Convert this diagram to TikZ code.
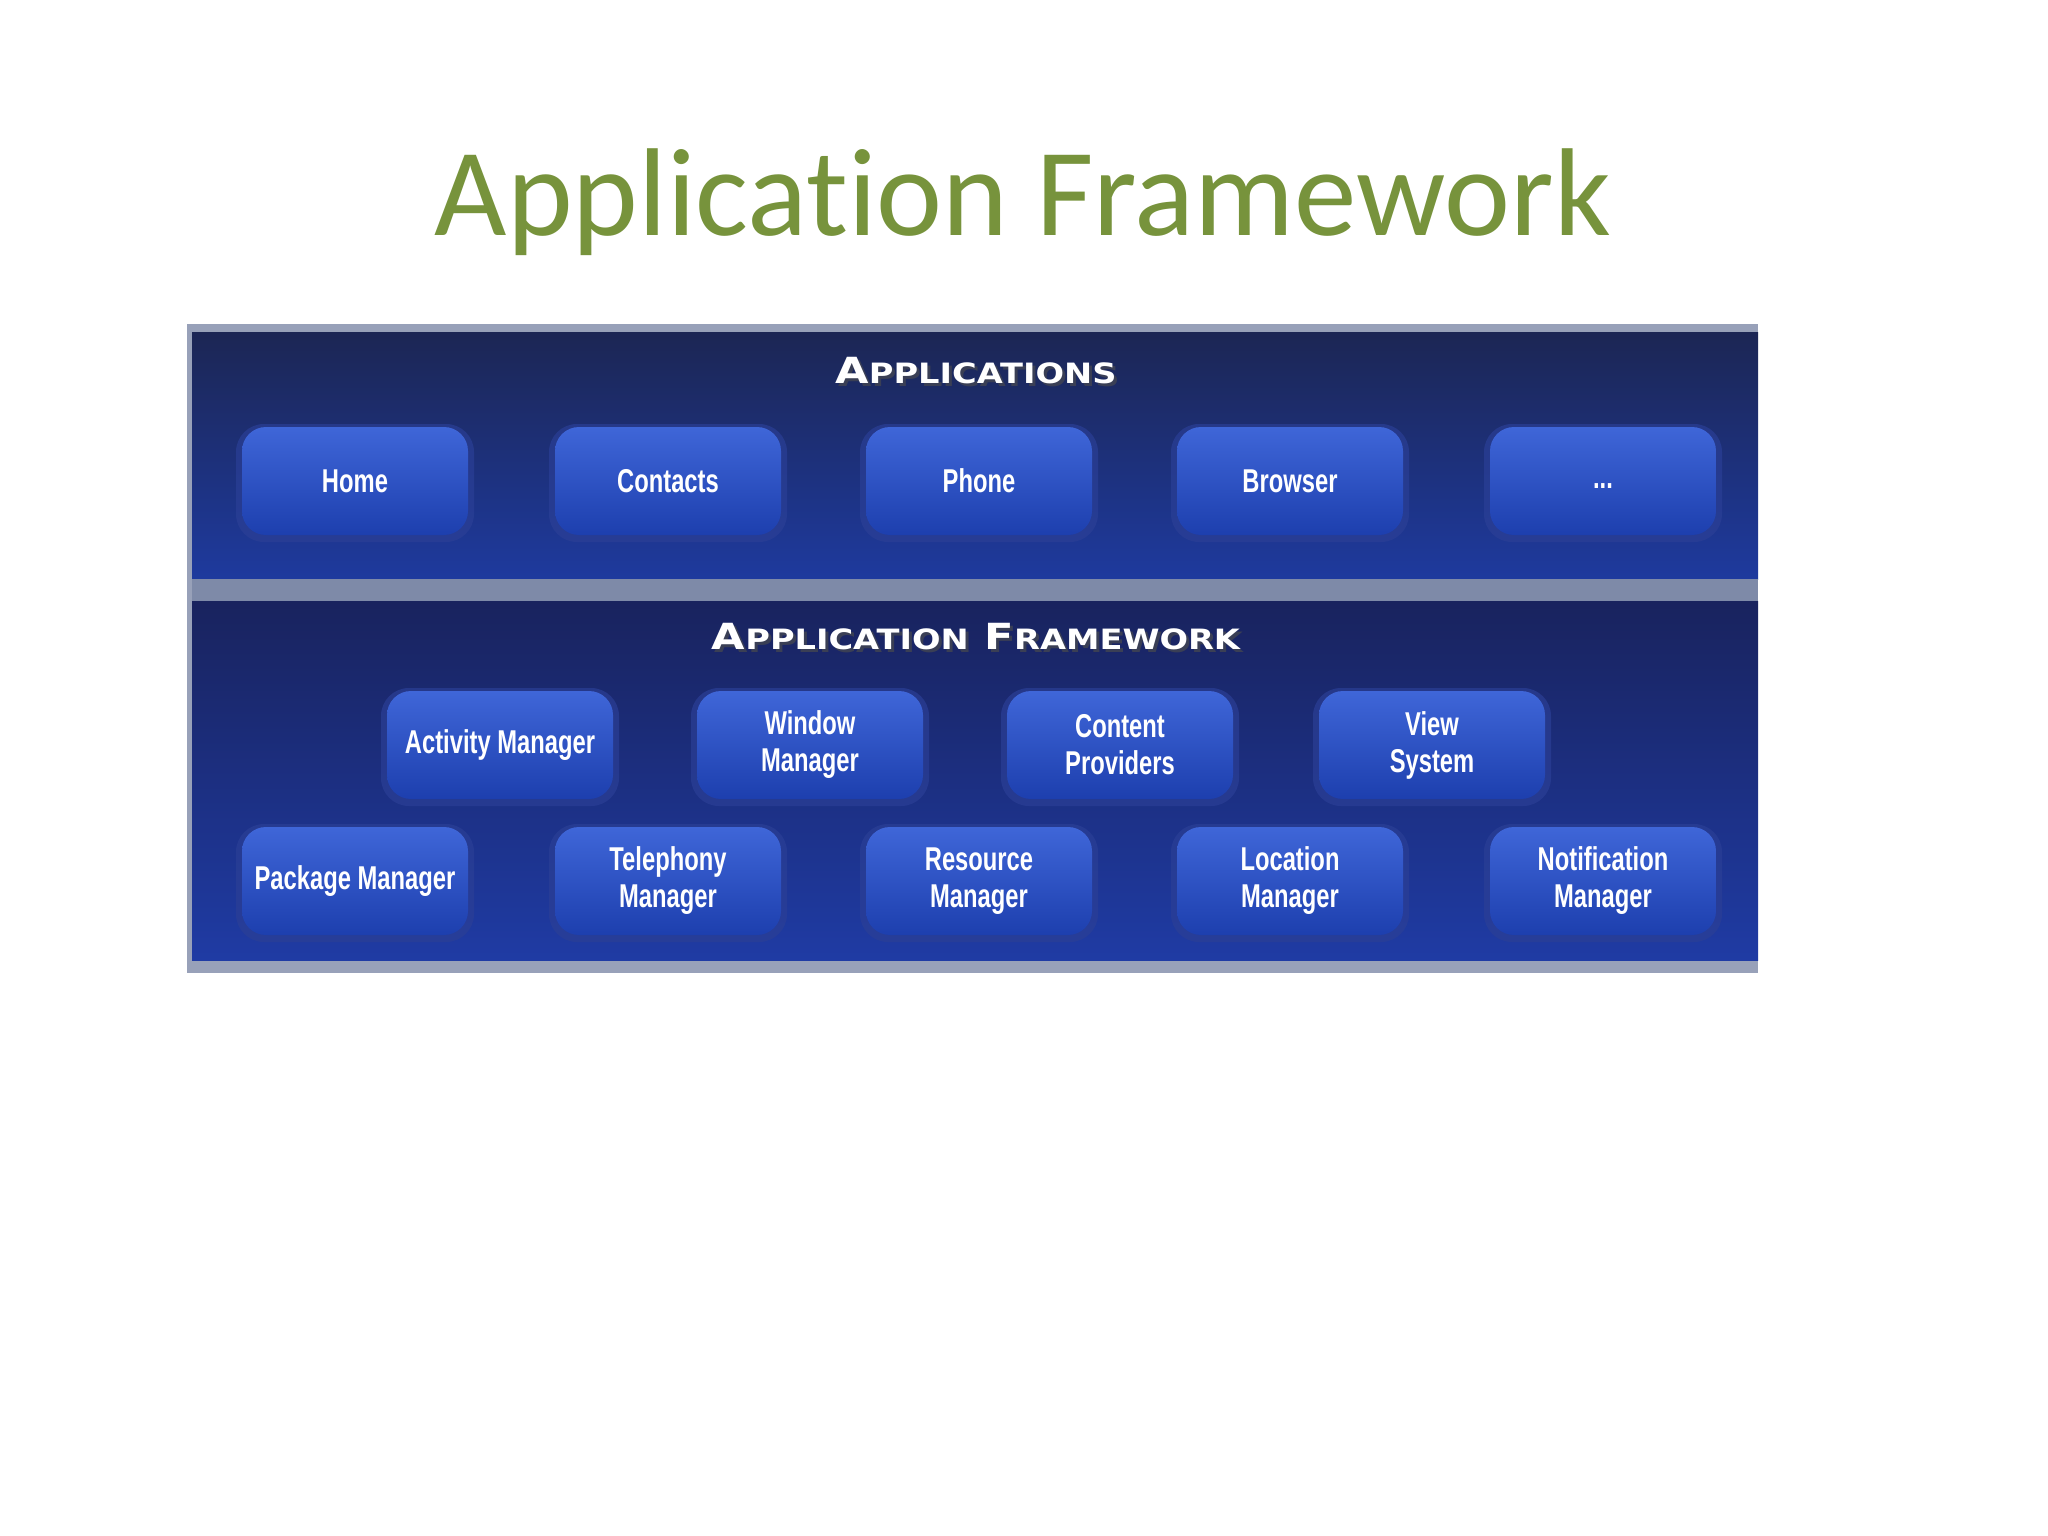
\documentclass[tikz,border=0pt]{standalone}
\usepackage{fontspec}
\setmainfont{Carlito}[Ligatures=NoCommon]
\newfontfamily\hdfont[FakeStretch=1.2]{DejaVu Sans}
\newfontfamily\boxfont[FakeStretch=0.72]{Liberation Sans}
\definecolor{titlegreen}{HTML}{77933C}
\definecolor{panelA}{HTML}{1C2654}
\definecolor{panelB}{HTML}{1E3A9E}
\definecolor{panelC}{HTML}{19235E}
\definecolor{panelD}{HTML}{1F3BA4}
\definecolor{bandgray}{HTML}{7E8AA8}
\definecolor{boxtop}{HTML}{3F66D8}
\definecolor{boxbot}{HTML}{1D3FAE}
\definecolor{glow}{HTML}{2B3F96}
\definecolor{hdshadow}{HTML}{3A3F55}
\tikzset{
  appbox/.style={rounded corners=24pt, minimum width=226pt, minimum height=108pt,
    inner sep=0pt, top color=boxtop, bottom color=boxbot, text=white,
    font=\boxfont\bfseries\fontsize{33}{37}\selectfont, align=center},
  glowbox/.style={rounded corners=28pt, minimum width=238pt, minimum height=118pt,
    inner sep=0pt, fill=glow, opacity=0.7},
  hdtext/.style={text=white, font=\hdfont\bfseries, inner sep=0pt},
  hdshad/.style={text=hdshadow, font=\hdfont\bfseries, inner sep=0pt}
}
\newcommand{\hdA}{\fontsize{36}{40}\selectfont}
\newcommand{\hdB}{\fontsize{28}{32}\selectfont}
\begin{document}
\begin{tikzpicture}[x=1pt,y=-1pt]
\useasboundingbox (0,0) rectangle (2048,1536);
\fill[white] (0,0) rectangle (2048,1536);
% title
\node[anchor=base, text=titlegreen, font=\fontsize{125}{138}\selectfont, inner sep=0pt] (title) at (1023,235) {Application Framework};
% panel
\fill[bandgray!80!white] (187,324) rectangle (1758,973);
\fill[top color=panelA, bottom color=panelB] (192,332) rectangle (1758,579);
\fill[bandgray] (192,579) rectangle (1758,601);
\fill[top color=panelC, bottom color=panelD] (192,601) rectangle (1758,960);
% headers
\node[hdshad] (apphs) at (979,374) {{\hdA A}{\hdB PPLICATIONS}};
\node[hdtext] (apph) at (976,371) {{\hdA A}{\hdB PPLICATIONS}};
\node[hdshad] (fwhs) at (979,640) {{\hdA A}{\hdB PPLICATION}\hspace{16pt}{\hdA F}{\hdB RAMEWORK}};
\node[hdtext] (fwh) at (976,637) {{\hdA A}{\hdB PPLICATION}\hspace{16pt}{\hdA F}{\hdB RAMEWORK}};
% glows
\foreach \x in {355,668,979,1290,1603}{
  \node[glowbox] at (\x,483) {};
  \node[glowbox] at (\x,883) {};
}
\foreach \x in {500,810,1120,1432}{
  \node[glowbox] at (\x,747) {};
}
% application row
\node[appbox] (home) at (355,481) {Home};
\node[appbox] (contacts) at (668,481) {Contacts};
\node[appbox] (phone) at (979,481) {Phone};
\node[appbox] (browser) at (1290,481) {Browser};
\node[appbox] (more) at (1603,481) {\raisebox{-14pt}{...}};
% framework row 1
\node[appbox] (activity) at (500,745) {Activity Manager};
\node[appbox] (window) at (810,745) {Window\\Manager};
\node[appbox] (content) at (1120,745) {Content\\Providers};
\node[appbox] (view) at (1432,745) {View\\System};
% framework row 2
\node[appbox] (package) at (355,881) {Package Manager};
\node[appbox] (telephony) at (668,881) {Telephony\\Manager};
\node[appbox] (resource) at (979,881) {Resource\\Manager};
\node[appbox] (location) at (1290,881) {Location\\Manager};
\node[appbox] (notification) at (1603,881) {Notification\\Manager};
\end{tikzpicture}
\end{document}
